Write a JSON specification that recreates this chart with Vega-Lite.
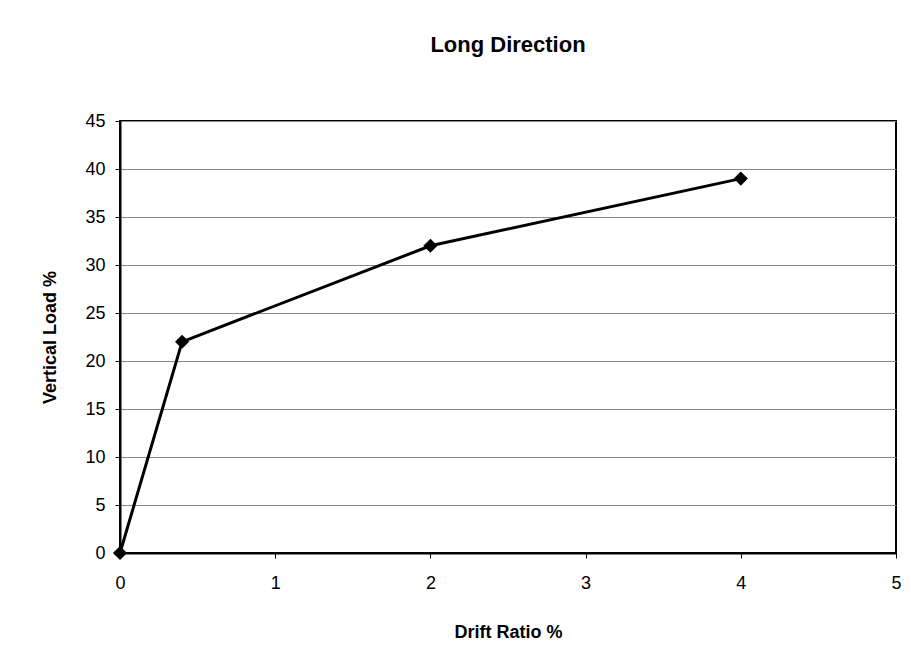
{
  "$schema": "https://vega.github.io/schema/vega-lite/v6.json",
  "width": 776,
  "height": 432,
  "autosize": {"type": "none"},
  "padding": {"left": 120, "top": 121, "right": 15, "bottom": 117},
  "background": "white",
  "title": {
    "text": "Long Direction",
    "font": "Liberation Sans",
    "fontSize": 22,
    "fontWeight": "bold",
    "color": "black",
    "anchor": "middle",
    "offset": 55
  },
  "config": {
    "view": {"stroke": "black", "strokeWidth": 2},
    "axis": {
      "labelFont": "Liberation Sans",
      "labelFontSize": 18,
      "labelColor": "black",
      "titleFont": "Liberation Sans",
      "titleFontSize": 18,
      "titleFontWeight": "bold",
      "titleColor": "black",
      "domainColor": "black",
      "domainWidth": 2,
      "tickColor": "black",
      "tickSize": 5,
      "gridColor": "#888888",
      "gridWidth": 1,
      "labelFlush": false
    }
  },
  "data": {
    "values": [
      {"drift": 0, "load": 0},
      {"drift": 0.4, "load": 22},
      {"drift": 2, "load": 32},
      {"drift": 4, "load": 39}
    ]
  },
  "mark": {"type": "line", "color": "black", "strokeWidth": 3, "point": {"shape": "diamond", "size": 200, "filled": true, "color": "black", "opacity": 1}},
  "encoding": {
    "x": {
      "field": "drift",
      "type": "quantitative",
      "title": "Drift Ratio %",
      "scale": {"domain": [0, 5], "nice": false},
      "axis": {"values": [0, 1, 2, 3, 4, 5], "grid": false, "labelPadding": 16, "titlePadding": 31}
    },
    "y": {
      "field": "load",
      "type": "quantitative",
      "title": "Vertical Load %",
      "scale": {"domain": [0, 45], "nice": false},
      "axis": {"values": [0, 5, 10, 15, 20, 25, 30, 35, 40, 45], "grid": true, "labelPadding": 10, "titlePadding": 25}
    }
  }
}
